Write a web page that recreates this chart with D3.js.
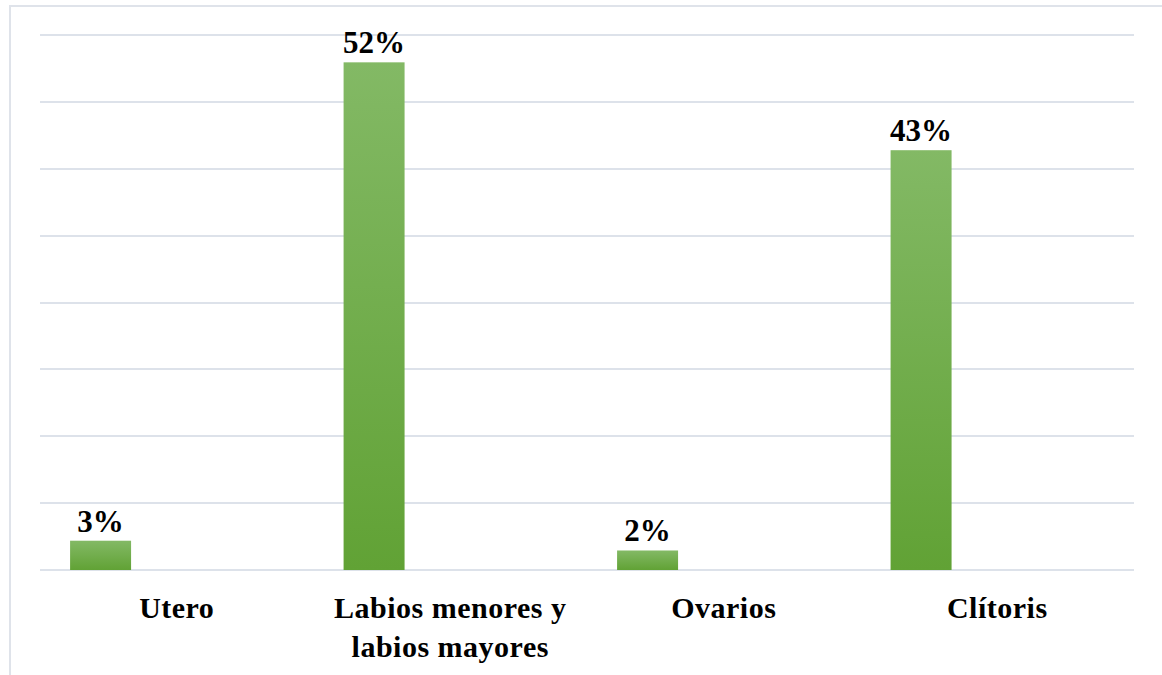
<!DOCTYPE html>
<html lang="es">
<head>
  <meta charset="UTF-8">
  <title>Gráfico de barras</title>
  <style>
    body { margin: 0; background: #fff; }
    .grid line { stroke: #dde2ea; stroke-width: 2px; }
    .label, .cat {
      font-family: "Liberation Serif", "Times New Roman", serif;
      font-weight: bold;
      fill: #000;
      text-anchor: middle;
    }
    .label { font-size: 31px; }
    .cat { font-size: 30px; letter-spacing: 0.5px; }
  </style>
</head>
<body>
  <svg width="1162" height="675"></svg>

  <script src="https://d3js.org/d3.v7.min.js"></script>
  <script>
    const categories = ["Utero", "Labios menores y\nlabios mayores", "Ovarios", "Clítoris"];
    const values = [0.03, 0.52, 0.02, 0.43];
    const labels = ["3%", "52%", "2%", "43%"];
    const yMax = 0.548;
    const gridCount = 8;

    const width = 1162, height = 675;
    const margin = { top: 35, right: 28, bottom: 105, left: 40 };
    const svg = d3.select("svg");

    // outer frame
    svg.append("rect")
      .attr("x", 10).attr("y", 6)
      .attr("width", width).attr("height", height)
      .attr("fill", "none")
      .attr("stroke", "#dfe3ea")
      .attr("stroke-width", 2);

    const x = d3.scaleBand()
      .domain(categories)
      .range([margin.left, width - margin.right])
      .padding(0);

    const y = d3.scaleLinear()
      .domain([0, yMax])
      .range([height - margin.bottom, margin.top]);

    const defs = svg.append("defs");
    const grad = defs.append("linearGradient")
      .attr("id", "barGrad")
      .attr("x1", 0).attr("y1", 0).attr("x2", 0).attr("y2", 1);
    grad.append("stop").attr("offset", "0%").attr("stop-color", "#83b965");
    grad.append("stop").attr("offset", "100%").attr("stop-color", "#61a235");

    const ticks = d3.range(gridCount + 1).map(i => i * yMax / gridCount);
    svg.append("g")
      .attr("class", "grid")
      .selectAll("line")
      .data(ticks)
      .enter().append("line")
      .attr("x1", margin.left)
      .attr("x2", width - margin.right)
      .attr("y1", d => Math.round(y(d)))
      .attr("y2", d => Math.round(y(d)));

    const bw = x.bandwidth();
    const barW = bw * 0.223;
    const barOff = bw * 0.11;

    svg.append("g")
      .selectAll("rect")
      .data(values)
      .enter().append("rect")
      .attr("x", (d, i) => x(categories[i]) + barOff)
      .attr("y", d => y(d))
      .attr("width", barW)
      .attr("height", d => y(0) - y(d))
      .attr("fill", "url(#barGrad)");

    svg.append("g")
      .selectAll("text")
      .data(values)
      .enter().append("text")
      .attr("class", "label")
      .attr("x", (d, i) => x(categories[i]) + barOff + barW / 2)
      .attr("y", d => y(d) - 9)
      .text((d, i) => labels[i]);

    const cat = svg.append("g")
      .selectAll("text")
      .data(categories)
      .enter().append("text")
      .attr("class", "cat")
      .attr("x", d => x(d) + bw / 2)
      .attr("y", 618);

    cat.each(function(d) {
      const lines = d.split("\n");
      d3.select(this).selectAll("tspan")
        .data(lines)
        .enter().append("tspan")
        .attr("x", x(d) + bw / 2)
        .attr("dy", (l, i) => i === 0 ? 0 : 39)
        .text(l => l);
    });
  </script>
</body>
</html>
